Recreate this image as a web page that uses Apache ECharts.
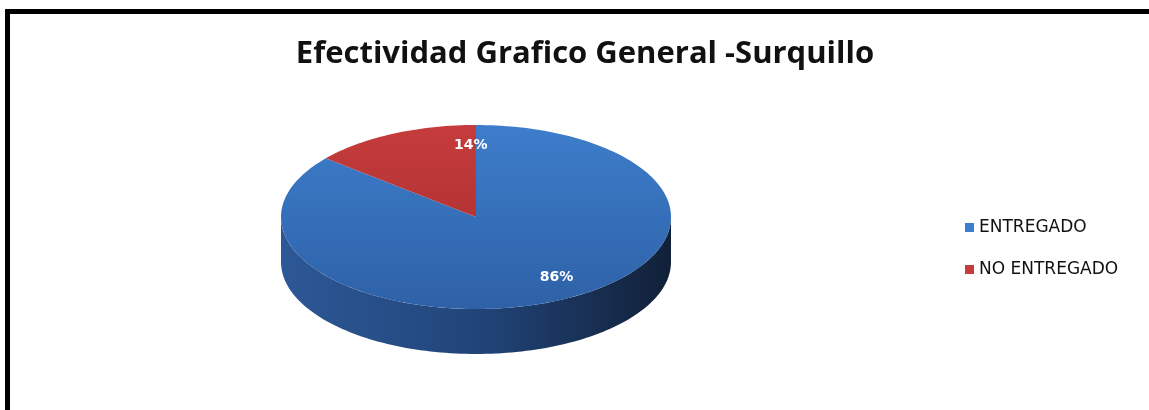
<!DOCTYPE html>
<html>
<head>
<meta charset="utf-8">
<script src="https://cdn.jsdelivr.net/npm/echarts@6/dist/echarts.min.js"></script>
<style>
  html, body { margin: 0; padding: 0; background: #fff; overflow: hidden; }
  #chart { width: 1149px; height: 410px; }
</style>
</head>
<body>
<div id="chart"></div>
<script>
// Delivery effectiveness, Surquillo
const categories = ['ENTREGADO', 'NO ENTREGADO'];
const shares = [86, 14];

// Colours per slice: top face gradient and side wall gradient
const topColors = [['#3d7dcb', '#2e61a7'], ['#c63c3c', '#a42b2b']];
const sideColors = [['#2d5896', '#21457a', '#112038'], ['#8e2525', '#6e1c1c', '#3e1010']];

// Projected 3D pie geometry (ellipse top face + extruded rim)
const PIE = { cx: 476, cy: 217, rx: 195, ry: 92, depth: 45 };
// Label anchors: angle (deg) on the ellipse and radial fraction
const labelAngle = { 'ENTREGADO': -58, 'NO ENTREGADO': 92 };
const labelRadius = 0.78;

const total = shares.reduce((a, b) => a + b, 0);

function pt(deg, dy) {
  const r = deg * Math.PI / 180;
  return [PIE.cx + PIE.rx * Math.cos(r), PIE.cy - PIE.ry * Math.sin(r) + (dy || 0)];
}
function arc(a0, a1, dy) {
  const n = Math.max(2, Math.ceil(Math.abs(a1 - a0) / 1.5));
  const out = [];
  for (let i = 0; i <= n; i++) out.push(pt(a0 + (a1 - a0) * i / n, dy));
  return out;
}

function makeRender(idx) {
  return function (params, api) {
    const value = api.value(0);
    const before = shares.slice(0, idx).reduce((a, b) => a + b, 0);
    const start = 90 - before / total * 360;
    const end = start - value / total * 360;
    const children = [];

    const sideFill = new echarts.graphic.LinearGradient(
      PIE.cx - PIE.rx, 0, PIE.cx + PIE.rx, 0,
      [{ offset: 0, color: sideColors[idx][0] },
       { offset: 0.5, color: sideColors[idx][1] },
       { offset: 1, color: sideColors[idx][2] }], true);

    // front half of the rim (where the ellipse faces the viewer)
    [[-180, 0], [-540, -360]].forEach(([lo, hi]) => {
      const a = Math.max(end, lo), b = Math.min(start, hi);
      if (a < b) {
        const pts = arc(b, a, 0).concat(arc(a, b, PIE.depth));
        children.push({
          type: 'polygon', z2: 1,
          shape: { points: pts },
          style: { fill: sideFill }
        });
      }
    });

    // top face
    const topFill = new echarts.graphic.LinearGradient(
      0, PIE.cy - PIE.ry, 0, PIE.cy + PIE.ry,
      [{ offset: 0, color: topColors[idx][0] }, { offset: 1, color: topColors[idx][1] }], true);
    children.push({
      type: 'polygon', z2: 5,
      shape: { points: [[PIE.cx, PIE.cy]].concat(arc(start, end, 0)) },
      style: { fill: topFill }
    });

    // value label
    const name = categories[idx];
    const la = labelAngle[name] !== undefined ? labelAngle[name] : (start + end) / 2;
    const r = la * Math.PI / 180;
    children.push({
      type: 'text', z2: 10,
      x: PIE.cx + PIE.rx * labelRadius * Math.cos(r),
      y: PIE.cy - PIE.ry * labelRadius * Math.sin(r),
      style: {
        text: Math.round(value / total * 100) + '%',
        fill: '#ffffff',
        font: 'bold 14px "DejaVu Sans", sans-serif',
        align: 'center',
        verticalAlign: 'middle'
      }
    });
    return { type: 'group', children };
  };
}

const chart = echarts.init(document.getElementById('chart'), null, { renderer: 'canvas' });
chart.setOption({
  animation: false,
  backgroundColor: '#ffffff',
  title: {
    text: 'Efectividad Grafico General -Surquillo',
    left: 580,
    textAlign: 'center',
    top: 34,
    textStyle: {
      fontFamily: '"Open Sans", sans-serif',
      fontWeight: 'bold',
      fontSize: 31,
      color: '#111111'
    }
  },
  legend: {
    orient: 'vertical',
    left: 960,
    top: 214,
    itemGap: 25,
    itemWidth: 9,
    itemHeight: 9,
    icon: 'rect',
    data: categories,
    textStyle: {
      fontFamily: '"DejaVu Sans", sans-serif',
      fontSize: 17,
      color: '#111111'
    }
  },
  graphic: [{
    type: 'rect',
    shape: { x: 7.5, y: 11.5, width: 1200, height: 500 },
    style: { fill: 'none', stroke: '#000000', lineWidth: 5 },
    silent: true
  }],
  series: categories.map((name, i) => ({
    type: 'custom',
    name: name,
    coordinateSystem: 'none',
    itemStyle: { color: topColors[i][0] },
    renderItem: makeRender(i),
    data: [[shares[i]]]
  }))
});
</script>
</body>
</html>
